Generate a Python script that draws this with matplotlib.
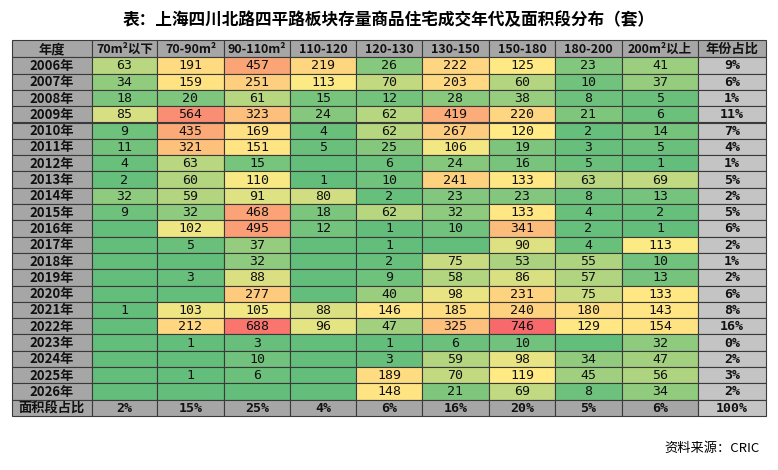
import matplotlib
matplotlib.use("Agg")
import matplotlib.pyplot as plt
import numpy as np
from matplotlib.colors import LinearSegmentedColormap

plt.rcParams['font.family'] = ['Noto Sans CJK SC', 'DejaVu Sans']

title = "表：上海四川北路四平路板块存量商品住宅成交年代及面积段分布（套）"
columns = ["70m²以下", "70-90m²", "90-110m²", "110-120", "120-130", "130-150", "150-180", "180-200", "200m²以上"]
years = [f"{y}年" for y in range(2006, 2027)]
N = None
values = [
    [63, 191, 457, 219, 26, 222, 125, 23, 41],
    [34, 159, 251, 113, 70, 203, 60, 10, 37],
    [18, 20, 61, 15, 12, 28, 38, 8, 5],
    [85, 564, 323, 24, 62, 419, 220, 21, 6],
    [9, 435, 169, 4, 62, 267, 120, 2, 14],
    [11, 321, 151, 5, 25, 106, 19, 3, 5],
    [4, 63, 15, N, 6, 24, 16, 5, 1],
    [2, 60, 110, 1, 10, 241, 133, 63, 69],
    [32, 59, 91, 80, 2, 23, 23, 8, 13],
    [9, 32, 468, 18, 62, 32, 133, 4, 2],
    [N, 102, 495, 12, 1, 10, 341, 2, 1],
    [N, 5, 37, N, 1, N, 90, 4, 113],
    [N, N, 32, N, 2, 75, 53, 55, 10],
    [N, 3, 88, N, 9, 58, 86, 57, 13],
    [N, N, 277, N, 40, 98, 231, 75, 133],
    [1, 103, 105, 88, 146, 185, 240, 180, 143],
    [N, 212, 688, 96, 47, 325, 746, 129, 154],
    [N, 1, 3, N, 1, 6, 10, N, 32],
    [N, N, 10, N, 3, 59, 98, 34, 47],
    [N, 1, 6, N, 189, 70, 119, 45, 56],
    [N, N, N, N, 148, 21, 69, 8, 34],
]
year_share = ["9%", "6%", "1%", "11%", "7%", "4%", "1%", "5%", "2%", "5%", "6%", "2%", "1%", "2%", "6%", "8%", "16%", "0%", "2%", "3%", "2%"]
area_share = ["2%", "15%", "25%", "4%", "6%", "16%", "20%", "5%", "6%", "100%"]

fig = plt.figure(figsize=(7.78, 4.70), dpi=100)
ax = fig.add_axes([0, 0, 1, 1])
ax.set_xlim(0, 778); ax.set_ylim(470, 0); ax.axis('off')

# layout
x_edges = [12, 92, 157, 224, 290, 356, 422, 489, 555, 622, 698, 766]
y0, hh, rh = 40, 17.3, 16.3
def row_top(i):  # i=0 header, 1..len rows
    return y0 if i == 0 else y0 + hh + (i - 1) * rh
def rh_of(i):
    return hh if i == 0 else rh

green, yellow, red = np.array([99, 190, 123]) / 255, np.array([255, 235, 132]) / 255, np.array([248, 105, 107]) / 255
mid, vmax = 115.0, 746.0
def color(v):
    if v is None: v = 0
    if v <= mid:
        t = v / mid; return tuple(green + (yellow - green) * t)
    t = min((v - mid) / (vmax - mid), 1); return tuple(yellow + (red - yellow) * t)

edge = '#3a3a3a'
numfont = dict(family=['DejaVu Sans Mono', 'Noto Sans CJK SC'])
def cell(r, c, fc, text, bold=False, fs=9.5, fam=None):
    x, y, w, h = x_edges[c], row_top(r), x_edges[c + 1] - x_edges[c], rh_of(r)
    ax.add_patch(plt.Rectangle((x, y), w, h, facecolor=fc, edgecolor=edge, lw=0.8))
    kw = dict(family=fam) if fam else {}
    ax.text(x + w / 2, y + h / 2 + 0.5, text, ha='center', va='center', fontsize=fs,
            fontweight='bold' if bold else 'normal', color='#111111', **kw)

hdr = '#a6a6a6'
cell(0, 0, hdr, "年度", bold=True)
for j, c in enumerate(columns):
    cell(0, j + 1, hdr, c, bold=True, fs=9)
cell(0, 10, hdr, "年份占比", bold=True)
for i, y in enumerate(years):
    cell(i + 1, 0, hdr, y, bold=True)
    for j, v in enumerate(values[i]):
        cell(i + 1, j + 1, color(v), "" if v is None else str(v), fam=['DejaVu Sans Mono'])
    cell(i + 1, 10, '#c4c4c4', year_share[i], bold=True, fam=['DejaVu Sans Mono'])
last = len(years) + 1
cell(last, 0, hdr, "面积段占比", bold=True)
for j, s in enumerate(area_share):
    cell(last, j + 1, hdr if j < 9 else '#c4c4c4', s, bold=True, fam=['DejaVu Sans Mono'])

ax.text(389, 20, title, ha='center', va='center', fontsize=12, fontweight='bold')
ax.text(760, 448, "资料来源：CRIC", ha='right', va='center', fontsize=9.5)
fig.savefig("out.png", dpi=100)
